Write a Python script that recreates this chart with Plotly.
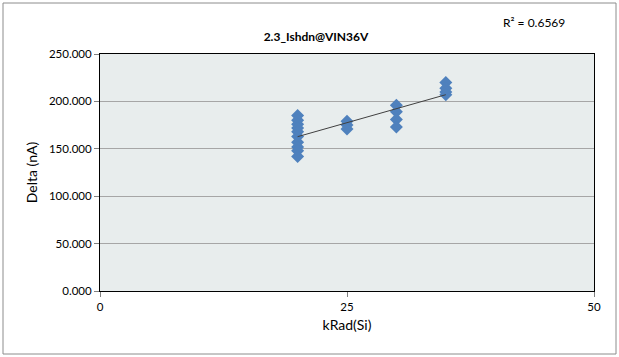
import numpy as np
import plotly.graph_objects as go

# Irradiation dose (kRad(Si)) and measured shutdown-current delta (nA)
dose = [20, 20, 20, 20, 20, 20, 20, 20, 20, 20,
        25, 25, 25,
        30, 30, 30, 30,
        35, 35, 35, 35]
delta = [185.0, 180.0, 176.0, 172.0, 168.0, 163.0, 157.0, 152.0, 148.0, 142.0,
         179.0, 175.0, 171.0,
         196.0, 189.0, 181.0, 173.0,
         220.0, 214.0, 210.0, 207.0]

y_ticks = [0, 50, 100, 150, 200, 250]
x_ticks = [0, 25, 50]
r2_label = "R\u00b2 = 0.6569"

# Linear least-squares trendline over the data range
slope, intercept = np.polyfit(dose, delta, 1)
trend_x = np.array([min(dose), max(dose)])
trend_y = slope * trend_x + intercept

fig = go.Figure()
fig.add_trace(go.Scatter(
    x=dose, y=delta, mode="markers",
    marker=dict(symbol="diamond", size=10, color="#4F81BD",
                line=dict(width=0)),
    showlegend=False, hoverinfo="x+y",
))
fig.add_trace(go.Scatter(
    x=trend_x, y=trend_y, mode="lines",
    line=dict(color="#404040", width=1),
    showlegend=False, hoverinfo="skip",
))

font_family = "Lato, 'Open Sans', sans-serif"

# Plot-area geometry in page pixels
margin_l, margin_r, margin_t, margin_b = 100, 25, 54, 66
plot_w = 619 - margin_l - margin_r
plot_h = 357 - margin_t - margin_b


def px_x(px):
    return (px - margin_l) / plot_w


def px_y(py):
    return (357 - margin_b - py) / plot_h


fig.update_layout(
    width=619, height=357,
    margin=dict(l=margin_l, r=margin_r, t=margin_t, b=margin_b),
    paper_bgcolor="white",
    plot_bgcolor="#E8EDED",
    font=dict(family=font_family, size=11, color="#000000"),
    title=dict(text="<b>2.3_Ishdn@VIN36V</b>", x=316 / 619, xanchor="center",
               y=1 - 37 / 357, yanchor="middle",
               font=dict(size=12, family=font_family)),
    xaxis=dict(range=[0, 50], tickvals=x_ticks, ticks="outside", ticklen=5,
               tickcolor="#808080", showgrid=False, zeroline=False,
               showline=True, linecolor="#000000", linewidth=1, mirror=True,
               title=dict(text="kRad(Si)", standoff=8,
                          font=dict(size=14, family=font_family)),
               tickfont=dict(size=11.5)),
    yaxis=dict(range=[0, 250], tickvals=y_ticks, tickformat=".3f",
               ticks="outside", ticklen=5, tickcolor="#808080",
               showgrid=True, gridcolor="#A6A6A6", gridwidth=1.3,
               zeroline=False, showline=True, linecolor="#000000",
               linewidth=1, mirror=True,
               title=dict(text="Delta (nA)", standoff=8,
                          font=dict(size=14, family=font_family)),
               tickfont=dict(size=11.5)),
    annotations=[dict(text=r2_label, xref="paper", yref="paper",
                      x=px_x(534), y=px_y(22), xanchor="center",
                      yanchor="middle", showarrow=False,
                      font=dict(size=12, family=font_family))],
    shapes=[dict(type="rect", xref="paper", yref="paper",
                 x0=px_x(3), x1=px_x(616), y0=px_y(354), y1=px_y(3),
                 line=dict(color="#8C8C8C", width=1), layer="below")],
)

fig.write_html("out.html")
